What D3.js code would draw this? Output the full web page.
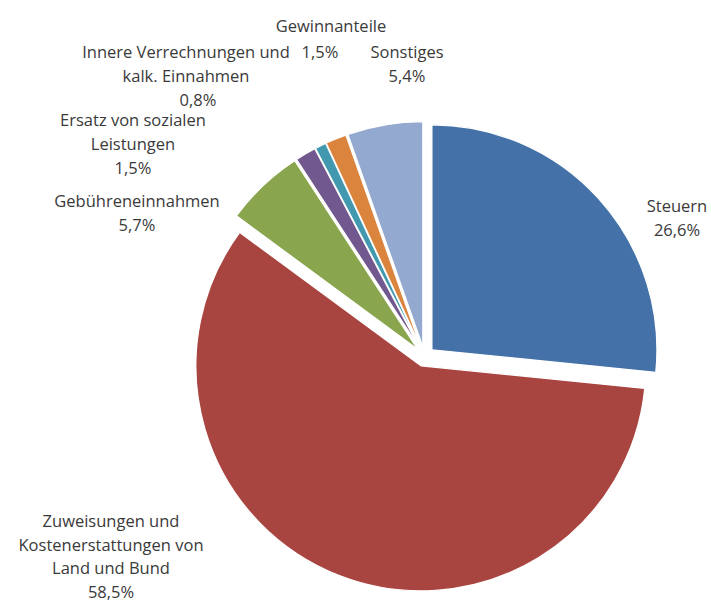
<!DOCTYPE html>
<html>
<head>
<meta charset="utf-8">
<script src="https://cdn.jsdelivr.net/npm/d3@7"></script>
<style>
  html, body { margin: 0; padding: 0; background: #fff; }
  svg { display: block; }
  text { font-family: "Open Sans", Lato, sans-serif; fill: #3a3a3a; }
</style>
</head>
<body>
<svg id="chart" width="711" height="604"></svg>
<script>
// ---- data ----
const categories = [
  "Steuern",
  "Zuweisungen und Kostenerstattungen von Land und Bund",
  "Gebühreneinnahmen",
  "Ersatz von sozialen Leistungen",
  "Innere Verrechnungen und kalk. Einnahmen",
  "Gewinnanteile",
  "Sonstiges"
];
const values = [26.6, 58.5, 5.7, 1.5, 0.8, 1.5, 5.4];
const valueLabels = ["26,6%", "58,5%", "5,7%", "1,5%", "0,8%", "1,5%", "5,4%"];
const labelLines = [
  ["Steuern"],
  ["Zuweisungen und", "Kostenerstattungen von", "Land und Bund"],
  ["Gebühreneinnahmen"],
  ["Ersatz von sozialen", "Leistungen"],
  ["Innere Verrechnungen und", "kalk. Einnahmen"],
  ["Gewinnanteile"],
  ["Sonstiges"]
];
const colors = ["#4471a7", "#a94541", "#89a54e", "#71588f", "#4198af", "#db843d", "#93a9cf"];

// ---- layout (not data) ----
const cx = 424.5, cy = 356.5, radius = 225, explode = 10;
// label anchor: [centre x, baseline of first line, dx for value line, line height]
const labelLayout = [
  [677, 212, 0, 24],
  [111, 527, 0, 23.5],
  [137, 207, 0, 24],
  [133, 126, 0, 24],
  [186, 58, 12, 24],
  [331, 32, -11, 26],
  [407, 58, 0, 24]
];

const svg = d3.select("#chart");
const g = svg.append("g").attr("transform", `translate(${cx},${cy})`);

const pie = d3.pie().sort(null).value(d => d)
  .startAngle(0).endAngle(2 * Math.PI);
const arcs = pie(values);
const arc = d3.arc().innerRadius(0).outerRadius(radius);

g.selectAll("path.slice")
  .data(arcs)
  .join("path")
  .attr("class", "slice")
  .attr("d", arc)
  .attr("fill", (d, i) => colors[i])
  .attr("stroke", "#ffffff")
  .attr("stroke-width", 1.2)
  .attr("stroke-linejoin", "round")
  .attr("transform", d => {
    const a = (d.startAngle + d.endAngle) / 2;
    return `translate(${explode * Math.sin(a)},${-explode * Math.cos(a)})`;
  });

const labels = svg.append("g").attr("font-size", 16.5);
categories.forEach((c, i) => {
  const [x, y, dxv, lh] = labelLayout[i];
  const t = labels.append("text").attr("text-anchor", "middle");
  const lines = labelLines[i];
  lines.forEach((ln, j) => {
    t.append("tspan").attr("x", x).attr("y", y + j * lh).text(ln);
  });
  t.append("tspan").attr("x", x + dxv).attr("y", y + lines.length * lh).text(valueLabels[i]);
});
</script>
</body>
</html>
